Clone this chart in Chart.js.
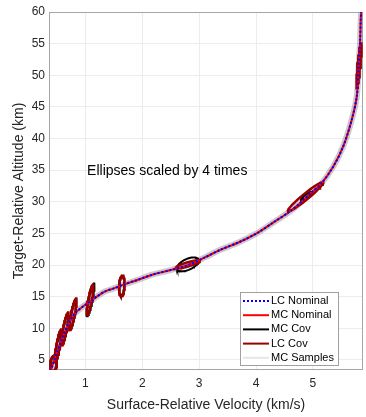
<!DOCTYPE html>
<html>
<head>
<meta charset="utf-8">
<script src="https://cdn.jsdelivr.net/npm/chart.js@4.4.1/dist/chart.umd.min.js"></script>
<style>
  html, body { margin: 0; padding: 0; background: #fff; }
</style>
</head>
<body>
<canvas id="chart" width="366" height="417"></canvas>
<script>
// nominal trajectory: surface-relative velocity (km/s) vs altitude (km)
var nomVel = [0.39, 0.43, 0.47, 0.52, 0.57, 0.63, 0.70, 0.76, 0.82, 0.95, 1.08, 1.20, 1.34, 1.50, 1.67, 1.90, 2.19, 2.50, 2.81, 3.10, 3.37, 3.70, 4.01, 4.30, 4.60, 4.80, 4.95, 5.15, 5.36, 5.53, 5.68, 5.77, 5.80, 5.83, 5.84, 5.85];
var nomAlt = [3.2, 4.4, 5.5, 6.7, 7.9, 9.3, 10.6, 11.6, 12.4, 13.4, 14.2, 15.0, 15.8, 16.3, 16.9, 17.6, 18.5, 19.2, 20.0, 21.2, 22.4, 23.6, 25.0, 26.7, 28.5, 30.0, 31.3, 32.9, 35.6, 38.7, 42.9, 46.6, 50.8, 55.6, 58.7, 60.5];

// covariance ellipses (already scaled x4): centre, sigmas, correlation
var lcCovVel = [0.44, 0.52, 0.64, 0.78, 1.08, 1.64, 2.80, 4.87, 5.81];
var lcCovAlt = [4.4, 7.2, 9.9, 12.2, 14.5, 16.7, 20.1, 30.8, 51.6];
var lcSigVel = [0.06, 0.06, 0.065, 0.065, 0.06, 0.05, 0.21, 0.31, 0.045];
var lcSigAlt = [1.3, 2.6, 2.6, 2.5, 2.4, 1.65, 0.63, 2.3, 3.6];
var lcRho    = [0.2, 0.85, 0.85, 0.85, 0.85, 0.2, 0.85, 0.965, 0.85];

var mcCovVel = [0.44, 0.52, 0.64, 0.78, 1.09, 1.64, 2.80, 4.88, 5.80];
var mcCovAlt = [4.4, 7.2, 9.9, 12.2, 14.5, 16.7, 20.1, 30.9, 51.5];
var mcSigVel = [0.055, 0.055, 0.06, 0.06, 0.07, 0.045, 0.19, 0.09, 0.02];
var mcSigAlt = [1.2, 2.5, 2.5, 2.4, 2.6, 1.55, 1.1, 0.65, 1.5];
var mcRho    = [0.2, 0.85, 0.85, 0.85, 0.85, 0.2, 0.55, 0.9, 0.7];

var xTicks = [1, 2, 3, 4, 5];
var yTicks = [5, 10, 15, 20, 25, 30, 35, 40, 45, 50, 55, 60];

var legendLabels = ['LC Nominal', 'MC Nominal', 'MC Cov', 'LC Cov', 'MC Samples'];
var legendColors = ['#0000ff', '#ff0000', '#000000', '#990000', '#e6e6e6'];
var noteText = 'Ellipses scaled by 4 times';
var notePos = [1.03, 34.9];

var font = '"Liberation Sans", Arial, sans-serif';

function pairs(xs, ys) {
    return xs.map(function (v, i) { return { x: v, y: ys[i] }; });
}

function ellipsePoints(cv, ch, sv, sh, rho) {
    var pts = [];
    var n = 72;
    for (var k = 0; k <= n; k++) {
        var t = 2 * Math.PI * k / n;
        pts.push({
            x: cv + sv * Math.cos(t),
            y: ch + sh * (rho * Math.cos(t) + Math.sqrt(1 - rho * rho) * Math.sin(t))
        });
    }
    return pts;
}

var datasets = [];

// MC samples band
datasets.push({
    label: 'MC Samples', data: pairs(nomVel, nomAlt),
    borderColor: 'rgba(150,150,150,0.5)', borderWidth: 6,
    pointRadius: 0, tension: 0.3, order: 5
});

// MC covariance ellipses
mcCovVel.forEach(function (v, i) {
    datasets.push({
        label: 'MC Cov', data: ellipsePoints(v, mcCovAlt[i], mcSigVel[i], mcSigAlt[i], mcRho[i]),
        borderColor: '#000000', borderWidth: 2, pointRadius: 0, order: 4
    });
});

// LC covariance ellipses
lcCovVel.forEach(function (v, i) {
    datasets.push({
        label: 'LC Cov', data: ellipsePoints(v, lcCovAlt[i], lcSigVel[i], lcSigAlt[i], lcRho[i]),
        borderColor: '#990000', borderWidth: 2.5, pointRadius: 0, order: 3
    });
});

datasets.push({
    label: 'MC Nominal', data: pairs(nomVel, nomAlt),
    borderColor: '#ff0000', borderWidth: 2, pointRadius: 0, tension: 0.3, order: 1
});
datasets.push({
    label: 'LC Nominal', data: pairs(nomVel, nomAlt),
    borderColor: '#0000ff', borderWidth: 2, borderDash: [2, 2], pointRadius: 0, tension: 0.3, order: 0
});

var overlay = {
    id: 'overlay',
    beforeDatasetsDraw: function (chart) {
        var ctx = chart.ctx, a = chart.chartArea;
        ctx.save();
        ctx.strokeStyle = '#a6a6a6';
        ctx.lineWidth = 1;
        ctx.strokeRect(a.left + 0.5, a.top + 0.5, a.right - a.left - 1, a.bottom - a.top - 1);
        ctx.restore();
    },
    afterDraw: function (chart) {
        var ctx = chart.ctx, a = chart.chartArea;
        var xs = chart.scales.x, ys = chart.scales.y;
        ctx.save();
        // annotation
        ctx.fillStyle = '#000';
        ctx.font = '14px ' + font;
        ctx.textBaseline = 'middle';
        ctx.textAlign = 'left';
        ctx.fillText(noteText, xs.getPixelForValue(notePos[0]), ys.getPixelForValue(notePos[1]));

        // legend box
        var w = 98, h = 73;
        var bx = a.right - 25 - w, by = a.bottom - 5 - h;
        ctx.fillStyle = '#fff';
        ctx.fillRect(bx, by, w, h);
        ctx.strokeStyle = '#a0a0a0';
        ctx.lineWidth = 1;
        ctx.strokeRect(bx + 0.5, by + 0.5, w, h);
        ctx.font = '11px ' + font;
        legendLabels.forEach(function (lab, i) {
            var y = by + 9 + i * 14.2;
            ctx.beginPath();
            ctx.strokeStyle = legendColors[i];
            ctx.lineWidth = 2;
            ctx.setLineDash(i === 0 ? [2, 2] : []);
            ctx.moveTo(bx + 3, y);
            ctx.lineTo(bx + 29, y);
            ctx.stroke();
            ctx.setLineDash([]);
            ctx.fillStyle = '#000';
            ctx.fillText(lab, bx + 31, y);
        });
        ctx.restore();
    }
};

new Chart(document.getElementById('chart').getContext('2d'), {
    type: 'scatter',
    data: { datasets: datasets },
    options: {
        responsive: false,
        animation: false,
        showLine: true,
        layout: { padding: { top: 12, right: 3, left: 0, bottom: 0 } },
        plugins: { legend: { display: false }, tooltip: { enabled: false } },
        scales: {
            x: {
                type: 'linear', min: 0.36, max: 5.88,
                afterBuildTicks: function (s) { s.ticks = xTicks.map(function (v) { return { value: v }; }); },
                afterFit: function (s) { s.height = 47; },
                grid: { color: '#ececec', drawTicks: false },
                border: { display: false },
                ticks: { color: '#262626', font: { family: font, size: 12 }, padding: 6 },
                title: { display: true, text: 'Surface-Relative Velocity (km/s)', color: '#262626',
                         font: { family: font, size: 14 }, padding: { top: 2, bottom: 3 } }
            },
            y: {
                type: 'linear', min: 3.4, max: 60,
                afterBuildTicks: function (s) { s.ticks = yTicks.map(function (v) { return { value: v }; }); },
                afterFit: function (s) { s.width = 49; },
                grid: { color: '#ececec', drawTicks: false },
                border: { display: false },
                ticks: { color: '#262626', font: { family: font, size: 12 }, padding: 4 },
                title: { display: true, text: 'Target-Relative Altitude (km)', color: '#262626',
                         font: { family: font, size: 14 }, padding: { top: 11, bottom: 4 } }
            }
        }
    },
    plugins: [overlay]
});
</script>
</body>
</html>
